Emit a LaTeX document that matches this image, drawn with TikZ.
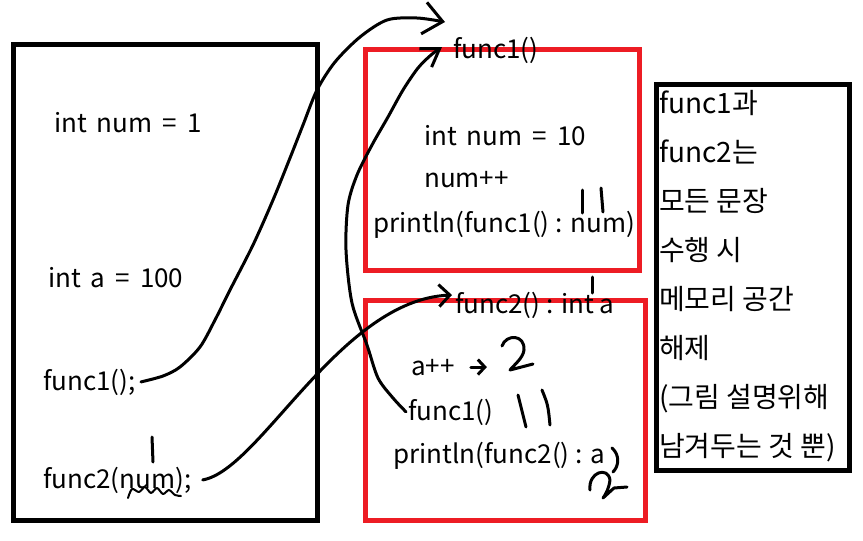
\documentclass[tikz,border=0pt]{standalone}
\usepackage{fontspec}
\setmainfont{Noto Sans CJK KR}
\usetikzlibrary{arrows.meta, positioning}
\definecolor{paintred}{HTML}{ED1C24}
\newcommand{\codefont}{\fontsize{26}{49}\selectfont}
\newcommand{\spacedfont}{\codefont\spaceskip=10pt\relax}
\newcommand{\notefont}{\fontsize{28}{49}\selectfont}
\newcommand{\memframe}[6]{%
  \node[draw=#2, line width=5pt, inner sep=0pt,
        minimum width=#5, minimum height=#6] (#1) at (#3,#4) {};}
\tikzset{
  code/.style={anchor=base west, inner sep=0pt, font=\codefont},
  spaced/.style={code, font=\spacedfont},
  pen/.style={line width=3pt, line cap=round, line join=round},
  finepen/.style={line width=2pt, line cap=round, line join=round}
}

\begin{document}
\begin{tikzpicture}[x=1pt, y=-1pt]
  \useasboundingbox (0,0) rectangle (863,541);
  % frames
  \memframe{mainframe}{black}{165.5}{282.25}{304pt}{475.5pt}
  \memframe{oneframe}{paintred}{502.5}{160}{274pt}{221pt}
  \memframe{twoframe}{paintred}{505.5}{410.5}{280pt}{220pt}
  \memframe{noteframe}{black}{752.75}{277.5}{193.5pt}{386pt}
  % main
  \node[spaced] (numdecl) at (54,132) {int num = 1};
  \node[spaced] (adecl) at (48,287) {int a = 100};
  \node[code] (callone) at (43,390) {func1();};
  \node[code] (calltwo) at (43,488) {func2(num);};
  % func1
  \node[code] (headone) at (453,58) {func1()};
  \node[spaced] (localnum) at (424,145) {int num = 10};
  \node[code] (incnum) at (424,187) {num++};
  \node[code] (printone) at (373,232) {println(func1() : num)};
  % func2
  \node[code] (headtwo) at (455,313) {func2() : int a};
  \node[code] (incr) at (411,375) {a++};
  \node[code] (nestcall) at (408,420) {func1()};
  \node[code] (printtwo) at (393,463) {println(func2() : a};
  % note
  \node[anchor=north west, inner sep=0pt, align=left, font=\notefont] (note) at (659,90)
    {func1과\\func2는\\모든 문장\\수행 시\\메모리 공간\\해제\\(그림 설명위해\\남겨두는 것 뿐)};
  % calls
  \coordinate (onetip) at (445,22);
  \coordinate (nesttip) at (442,47);
  \coordinate (twotip) at (452,295);
  \draw[pen, -{Straight Barb[length=19pt, width=32pt]}]
    plot[smooth] coordinates {([xshift=5pt]callone.east) (163,376) (180,367) (200,347)
      (215,320) (230,290) (253,245) (273,200) (290,158) (303,125) (317,90) (335,62)
      (360,37) (387,20) (417,18) (onetip)};
  \draw[pen, -{Straight Barb[length=17pt, width=22pt]}]
    plot[smooth] coordinates {([xshift=-2pt]nestcall.west) (393,398) (378,378) (367,345)
      (352,303) (346,250) (348,205) (357,175) (372,145) (388,117) (403,90) (418,68)
      (431,55) (nesttip)};
  \draw[pen, -{Straight Barb[length=11pt, width=22pt]}]
    ([xshift=11pt]calltwo.east) .. controls (260,470) and (340,300) .. (twotip);
  \draw[pen, -{Straight Barb[length=7pt, width=15pt]}]
    ([xshift=16pt]incr.east) -- ++(16,0);
  % handwritten values
  \draw[pen] (152,437) -- (153,462);
  \draw[finepen] plot[smooth] coordinates {(128,498) (132,489) (139,492) (145,487)
    (151,493) (157,488) (163,494) (169,490) (175,495) (181,496)};
  \draw[pen] (582,190) -- (582,213);
  \draw[pen] (601,188) -- (603,212);
  \draw[pen] (592,277) -- (592,293);
  \draw[pen] (518,395) -- (526,427);
  \draw[pen] (542,390) .. controls (548,405) .. (550,425);
  \draw[pen] (502,346) .. controls (506,334) and (525,334) .. (524,350)
    .. controls (523,358) and (515,364) .. (510,370) -- (533,364);
  \draw[pen] (612,448) .. controls (620,455) and (619,466) .. (613,472);
  \draw[pen] (590,490) .. controls (588,472) and (608,466) .. (610,480)
    .. controls (609,488) and (606,494) .. (603,498) -- (614,488) -- (627,487);
\end{tikzpicture}
\end{document}
